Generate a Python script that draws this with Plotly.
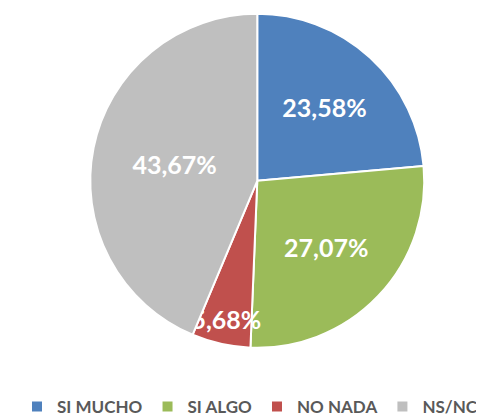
import plotly.graph_objects as go

# Data
categories = ["SI MUCHO", "SI ALGO", "NO NADA", "NS/NC"]
values = [23.58, 27.07, 5.68, 43.67]
text_labels = ["23,58%", "27,07%", "5,68%", "43,67%"]
colors = ["#4F81BD", "#9BBB59", "#C0504D", "#BFBFBF"]

fig = go.Figure()

fig.add_trace(go.Pie(
    labels=categories,
    values=values,
    text=text_labels,
    textinfo="text",
    textposition="inside",
    insidetextorientation="horizontal",
    textfont=dict(family="Lato", size=25, color="white", weight="bold"),
    marker=dict(colors=colors, line=dict(color="white", width=2)),
    sort=False,
    direction="clockwise",
    rotation=0,
    domain=dict(x=[0.170, 0.860], y=[0.185, 0.986]),
    hoverinfo="label+percent",
))

fig.update_layout(
    width=484,
    height=417,
    margin=dict(l=0, r=0, t=0, b=0),
    paper_bgcolor="white",
    plot_bgcolor="white",
    uniformtext=dict(minsize=25, mode="show"),
    legend=dict(
        orientation="h",
        x=0.5, xanchor="center",
        y=0.0, yanchor="bottom",
        font=dict(family="Lato", size=17, color="#595959", weight="bold"),
        itemwidth=30,
        traceorder="normal",
    ),
    showlegend=True,
)

fig.write_html("out.html")
